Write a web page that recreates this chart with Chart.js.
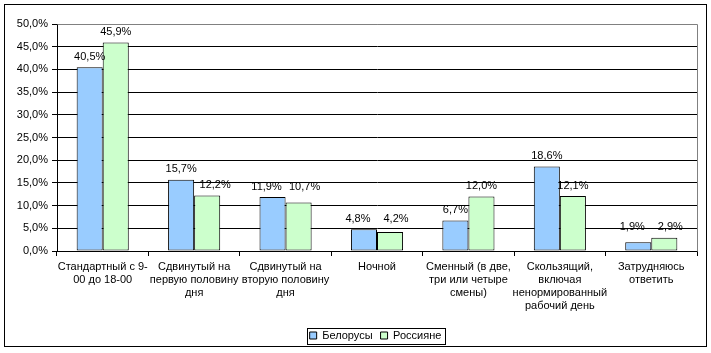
<!DOCTYPE html>
<html>
<head>
<meta charset="utf-8">
<script src="https://cdn.jsdelivr.net/npm/chart.js@4/dist/chart.umd.min.js"></script>
<style>
  body { margin: 0; background: #fff; }
  #wrap { width: 711px; height: 353px; }
</style>
</head>
<body>
<div id="wrap"><canvas id="workChart" width="711" height="353"></canvas></div>
<script>
// categories (multi-line tick labels)
const categories = [
    ['Стандартный с 9-', '00 до 18-00'],
    ['Сдвинутый на', 'первую половину', 'дня'],
    ['Сдвинутый на', 'вторую половину', 'дня'],
    ['Ночной'],
    ['Сменный (в две,', 'три или четыре', 'смены)'],
    ['Скользящий,', 'включая', 'ненормированный', 'рабочий день'],
    ['Затрудняюсь', 'ответить']
];
const seriesNames = ['Белорусы', 'Россияне'];
const belarusValues = [40.5, 15.7, 11.9, 4.8, 6.7, 18.6, 1.9];
const russiaValues = [45.9, 12.2, 10.7, 4.2, 12.0, 12.1, 2.9];

const fontFamily = '"Liberation Sans", Arial, sans-serif';
const fmt = (v) => v.toFixed(1).replace('.', ',') + '%';

// value labels above bars, frame around plot, legend and whole chart
const decorations = {
    id: 'decorations',
    afterLayout(chart) {
        // the legend sits a bit right of centre in the original
        const lg = chart.legend;
        if (lg) {
            lg.left += 27;
            lg.right += 27;
            lg.adjustHitBoxes();
        }
    },
    afterDatasetsDraw(chart) {
        const ctx = chart.ctx;
        const area = chart.chartArea;
        ctx.save();
        // grey plot-area frame (top and right)
        ctx.strokeStyle = '#808080';
        ctx.lineWidth = 1;
        ctx.beginPath();
        ctx.moveTo(Math.round(area.left) + 0.5, Math.round(area.top) + 0.5);
        ctx.lineTo(Math.round(area.right) + 0.5, Math.round(area.top) + 0.5);
        ctx.lineTo(Math.round(area.right) + 0.5, Math.round(area.bottom) + 0.5);
        ctx.stroke();

        ctx.fillStyle = '#000';
        ctx.font = '11px ' + fontFamily;
        ctx.textAlign = 'center';
        ctx.textBaseline = 'bottom';
        const a = chart.getDatasetMeta(0).data;
        const b = chart.getDatasetMeta(1).data;
        a.forEach((barA, j) => {
            const barB = b[j];
            let yA = barA.y - 5, yB = barB.y - 5;
            let xA = barA.x, xB = barB.x;
            const diff = Math.abs(yA - yB);
            if (diff < 14) {
                // labels on one line, pushed apart
                yA = yB = Math.min(yA, yB);
                xA -= 6;
                xB += 6;
            } else if (diff < 20) {
                // nudge the lower label sideways
                if (yA < yB) xB += 8; else xA -= 8;
            }
            ctx.fillText(fmt(belarusValues[j]), xA, yA);
            ctx.fillText(fmt(russiaValues[j]), xB, yB);
        });
        ctx.restore();
    },
    afterDraw(chart) {
        const ctx = chart.ctx;
        ctx.save();
        ctx.strokeStyle = '#000';
        ctx.lineWidth = 1;
        const lg = chart.legend;
        if (lg) {
            // frame around the legend items
            const pad = lg.options.labels.padding;
            const w = lg.lineWidths[0];
            const cx = (lg.left + lg.right) / 2;
            const x0 = cx - w / 2 + pad / 2 - 3;
            const x1 = cx + w / 2 - pad / 2 + 3;
            const cy = (lg.top + lg.bottom) / 2;
            ctx.strokeRect(Math.round(x0) + 0.5, Math.round(cy - 9) + 0.5, Math.round(x1 - x0), 16);
        }
        // outer chart border
        ctx.strokeRect(4.5, 4.5, 702, 342);
        ctx.restore();
    }
};

const ctx = document.getElementById('workChart').getContext('2d');
new Chart(ctx, {
    type: 'bar',
    data: {
        labels: categories,
        datasets: [
            {
                label: seriesNames[0],
                data: belarusValues,
                backgroundColor: '#99CCFF',
                borderColor: '#000',
                borderWidth: 1,
                borderSkipped: false,
                categoryPercentage: 0.57,
                barPercentage: 1.0
            },
            {
                label: seriesNames[1],
                data: russiaValues,
                backgroundColor: '#CCFFCC',
                borderColor: '#000',
                borderWidth: 1,
                borderSkipped: false,
                categoryPercentage: 0.57,
                barPercentage: 1.0
            }
        ]
    },
    options: {
        responsive: false,
        animation: false,
        layout: { padding: { left: 0, right: 14, top: 24, bottom: 2 } },
        plugins: {
            legend: {
                position: 'bottom',
                labels: {
                    font: { family: fontFamily, size: 11 },
                    color: '#000',
                    boxWidth: 7,
                    boxHeight: 7,
                    padding: 8,
                    generateLabels(chart) {
                        return chart.data.datasets.map((ds, i) => ({
                            text: ds.label,
                            fillStyle: ds.backgroundColor,
                            strokeStyle: '#000',
                            lineWidth: 1,
                            datasetIndex: i,
                            fontColor: '#000'
                        }));
                    }
                }
            },
            tooltip: { enabled: false }
        },
        scales: {
            x: {
                offset: true,
                grid: {
                    offset: true,
                    drawOnChartArea: false,
                    drawTicks: true,
                    tickLength: 5,
                    color: '#000'
                },
                border: { color: '#000' },
                ticks: {
                    font: { family: fontFamily, size: 11 },
                    color: '#000',
                    maxRotation: 0,
                    autoSkip: false,
                    padding: 4
                },
                afterFit(scale) { scale.height = 71; }
            },
            y: {
                min: 0,
                max: 50,
                ticks: {
                    stepSize: 5,
                    font: { family: fontFamily, size: 11 },
                    color: '#000',
                    padding: 4,
                    callback: (v) => fmt(v)
                },
                grid: {
                    color: (c) => (c.tick && c.tick.value === 50 ? '#808080' : '#000'),
                    tickLength: 5,
                    tickColor: '#000'
                },
                border: { color: '#000' },
                afterFit(scale) { scale.width = 57; }
            }
        }
    },
    plugins: [decorations]
});
</script>
</body>
</html>
